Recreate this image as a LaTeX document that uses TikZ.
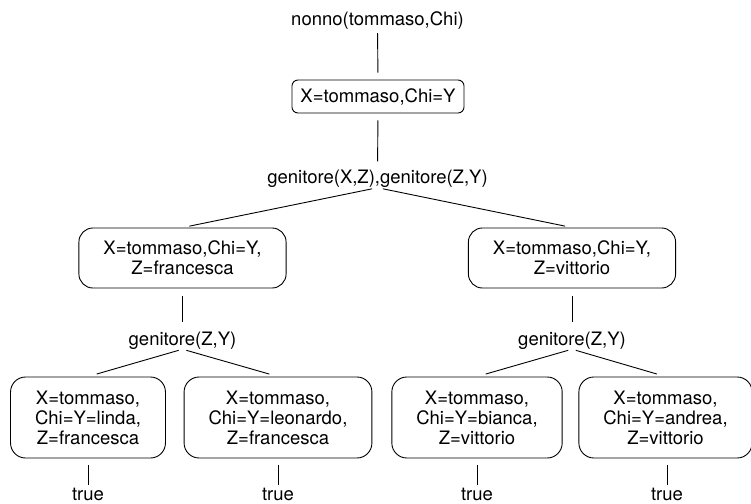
\documentclass[tikz,border=0pt]{standalone}
\usepackage{fontspec}
\setmainfont{TeX Gyre Heros}
\begin{document}
\begin{tikzpicture}[x=1pt,y=-1pt,
  every node/.style={font=\fontsize{18.5}{20}\selectfont},
  lbl/.style={inner sep=0pt, text height=14pt, text depth=4pt},
  topbox/.style={draw, rounded corners=6pt, line width=0.9pt, inner xsep=8.5pt, inner ysep=0pt, minimum height=33pt},
  midbox/.style={draw, rounded corners=14pt, line width=0.9pt, align=center, inner xsep=24.5pt, inner ysep=0pt, minimum height=60pt},
  leafbox/.style={draw, rounded corners=15pt, line width=0.9pt, align=center, inner xsep=24.5pt, inner ysep=0pt, minimum height=81pt},
  conn/.style={line width=0.9pt}]
\useasboundingbox (0,0) rectangle (751,503);

\node[lbl] (q0) at (377.5,20.5) {nonno(tommaso,Chi)};
\node[topbox] (b0) at (378,96.5) {X=tommaso,Chi=Y};
\node[lbl] (q1) at (377.5,178.5) {genitore(X,Z),genitore(Z,Y)};
\node[midbox] (b1) at (182.5,258) {X=tommaso,Chi=Y,\\Z=francesca};
\node[midbox] (b2) at (572,258) {X=tommaso,Chi=Y,\\Z=vittorio};
\node[lbl] (q2) at (182.5,340) {genitore(Z,Y)};
\node[lbl] (q3) at (572,340) {genitore(Z,Y)};
\node[leafbox] (l1) at (88,417.5) {X=tommaso,\\Chi=Y=linda,\\Z=francesca};
\node[leafbox] (l2) at (278,417.5) {X=tommaso,\\Chi=Y=leonardo,\\Z=francesca};
\node[leafbox] (l3) at (477,417.5) {X=tommaso,\\Chi=Y=bianca,\\Z=vittorio};
\node[leafbox] (l4) at (665.5,417.5) {X=tommaso,\\Chi=Y=andrea,\\Z=vittorio};
\node[lbl] (t1) at (88,495) {true};
\node[lbl] (t2) at (278,495) {true};
\node[lbl] (t3) at (477,495) {true};
\node[lbl] (t4) at (667,495) {true};

\draw[conn, shorten <=3.5pt, shorten >=7pt] (q0.south) -- (b0.north);
\draw[conn, shorten <=7pt, shorten >=8pt] (b0.south) -- (q1.north);
\draw[conn, shorten <=5.5pt, shorten >=7pt] (q1.south) -- (b1.north);
\draw[conn, shorten <=5.5pt, shorten >=7pt] (q1.south) -- (b2.north);
\draw[conn, shorten <=8pt, shorten >=9pt] (b1.south) -- (q2.north);
\draw[conn, shorten <=8pt, shorten >=9pt] (b2.south) -- (q3.north);
\draw[conn, shorten <=4pt, shorten >=9pt] (q2.south) -- (l1.north);
\draw[conn, shorten <=4pt, shorten >=9pt] (q2.south) -- (l2.north);
\draw[conn, shorten <=4pt, shorten >=9pt] (q3.south) -- (l3.north);
\draw[conn, shorten <=4pt, shorten >=9pt] (q3.south) -- (l4.north);
\draw[conn, shorten <=7pt, shorten >=1pt] (l1.south) -- (t1.north);
\draw[conn, shorten <=7pt, shorten >=1pt] (l2.south) -- (t2.north);
\draw[conn, shorten <=7pt, shorten >=1pt] (l3.south) -- (t3.north);
\draw[conn, shorten <=7pt, shorten >=1pt] (t4.north |- l4.south) -- (t4.north);
\end{tikzpicture}
\end{document}
